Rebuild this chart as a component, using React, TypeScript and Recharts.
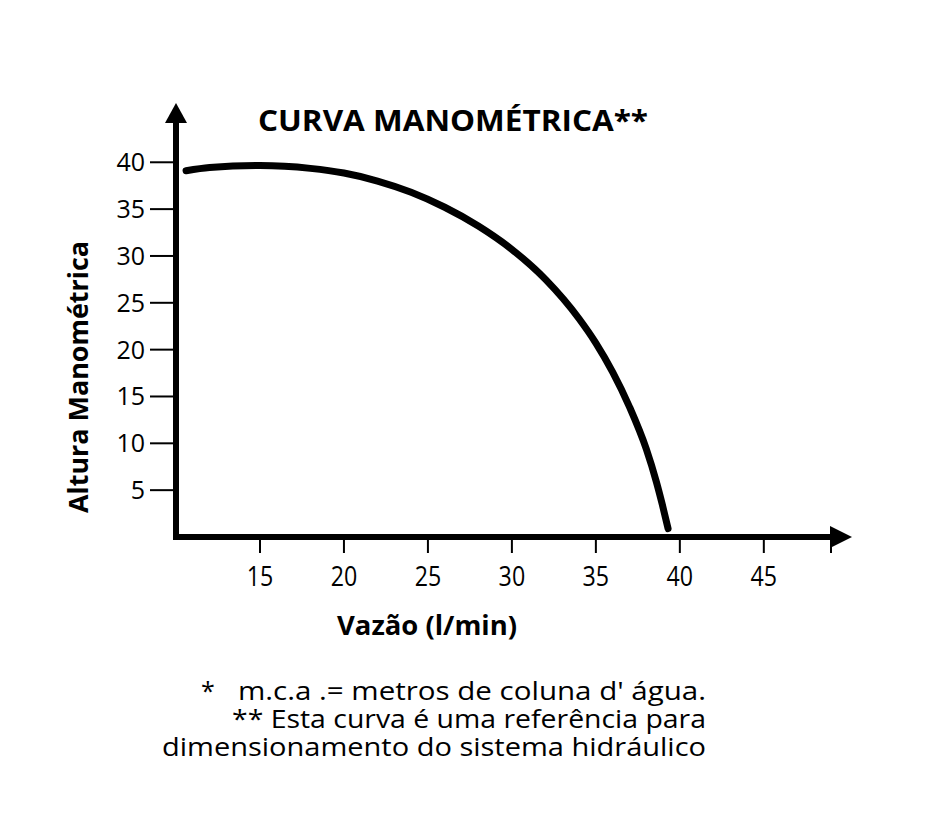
import React from "react";
import { LineChart, Line, XAxis, YAxis, ReferenceDot } from "recharts";

// curva manométrica: vazão (l/min) x altura (m.c.a)
const flow = [10.6, 12, 15, 18, 20, 22, 24, 26, 28, 30, 32, 34, 35, 36, 37, 38, 38.6, 38.95, 39.3];
const head = [39.1, 39.45, 39.65, 39.35, 38.85, 38.0, 36.8, 35.2, 33.2, 30.7, 27.5, 23.3, 20.7, 17.6, 13.9, 9.4, 5.9, 3.5, 0.9];

const xTicks = [15, 20, 25, 30, 35, 40, 45, 49];
const xTickLabels = ["15", "20", "25", "30", "35", "40", "45", ""];
const yTicks = [5, 10, 15, 20, 25, 30, 35, 40];

const xDomain = [10, 49];
const yDomain = [0, 44.3];

const title = "CURVA MANOMÉTRICA**";
const xTitle = "Vazão (l/min)";
const yTitle = "Altura Manométrica";
const notes = [
  "m.c.a .= metros de coluna d' água.",
  "** Esta curva é uma referência para",
  "dimensionamento do sistema hidráulico",
];

const data = flow.map((q, i) => ({ q, h: head[i] }));

const FONT = "'Open Sans', sans-serif";

const XTick = (props: any) => {
  const { x, y, payload } = props;
  const label = xTickLabels[xTicks.indexOf(payload.value)];
  return (
    <text
      x={x}
      y={y}
      dy="0.72em"
      textAnchor="middle"
      fontSize={27}
      fontFamily={FONT}
      fill="#000"
      transform={`translate(${x},0) scale(0.86,1) translate(${-x},0)`}
    >
      {label}
    </text>
  );
};

const arrowRight = (p: any) => (
  <path
    d={`M${p.cx - 1},${p.cy - 11} L${p.cx + 21},${p.cy} L${p.cx - 1},${p.cy + 11} Z`}
    fill="#000"
  />
);

const arrowUp = (p: any) => (
  <path
    d={`M${p.cx - 11},${p.cy + 1} L${p.cx},${p.cy - 19} L${p.cx + 11},${p.cy + 1} Z`}
    fill="#000"
  />
);

export default function App() {
  return (
    <div style={{ position: "relative", width: 910, height: 800 }}>
      <LineChart
        width={910}
        height={800}
        data={data}
        margin={{ top: 114, right: 87, bottom: 231, left: 0 }}
      >
        <XAxis
          dataKey="q"
          type="number"
          domain={xDomain}
          ticks={xTicks}
          interval={0}
          allowDataOverflow
          height={40}
          tickSize={16}
          tickMargin={14}
          tick={<XTick />}
          axisLine={{ stroke: "#000", strokeWidth: 6, strokeLinecap: "square" }}
          tickLine={{ stroke: "#000", strokeWidth: 2 }}
        />
        <YAxis
          type="number"
          domain={yDomain}
          ticks={yTicks}
          interval={0}
          allowDataOverflow
          width={168}
          tickSize={26}
          tickMargin={5}
          tick={{ fontSize: 25, fill: "#000", fontFamily: FONT }}
          axisLine={{ stroke: "#000", strokeWidth: 6, strokeLinecap: "square" }}
          tickLine={{ stroke: "#000", strokeWidth: 2 }}
        />
        <Line
          dataKey="h"
          type="monotone"
          stroke="#000"
          strokeWidth={7}
          strokeLinecap="round"
          dot={false}
          activeDot={false}
          isAnimationActive={false}
        />
        <ReferenceDot x={xDomain[1]} y={0} r={0} ifOverflow="visible" shape={arrowRight} />
        <ReferenceDot x={xDomain[0]} y={yDomain[1]} r={0} ifOverflow="visible" shape={arrowUp} />
      </LineChart>
      <svg
        width={910}
        height={800}
        style={{ position: "absolute", left: 0, top: 0, pointerEvents: "none" }}
        fontFamily={FONT}
      >
        <text x={250} y={123} fontSize={28} fontWeight={700} textLength={390} lengthAdjust="spacingAndGlyphs">
          {title}
        </text>
        <text
          x={80}
          y={369}
          transform="rotate(-90 80 369)"
          textAnchor="middle"
          fontSize={26}
          fontWeight={700}
          textLength={272}
          lengthAdjust="spacingAndGlyphs"
        >
          {yTitle}
        </text>
        <text x={329} y={627} fontSize={26} fontWeight={700} textLength={180} lengthAdjust="spacingAndGlyphs">
          {xTitle}
        </text>
        <text x={193} y={692} fontSize={25}>*</text>
        <text x={230} y={692} fontSize={25} textLength={468} lengthAdjust="spacingAndGlyphs">
          {notes[0]}
        </text>
        <text x={224} y={720} fontSize={25} textLength={474} lengthAdjust="spacingAndGlyphs">
          {notes[1]}
        </text>
        <text x={154} y={748} fontSize={25} textLength={544} lengthAdjust="spacingAndGlyphs">
          {notes[2]}
        </text>
      </svg>
    </div>
  );
}
